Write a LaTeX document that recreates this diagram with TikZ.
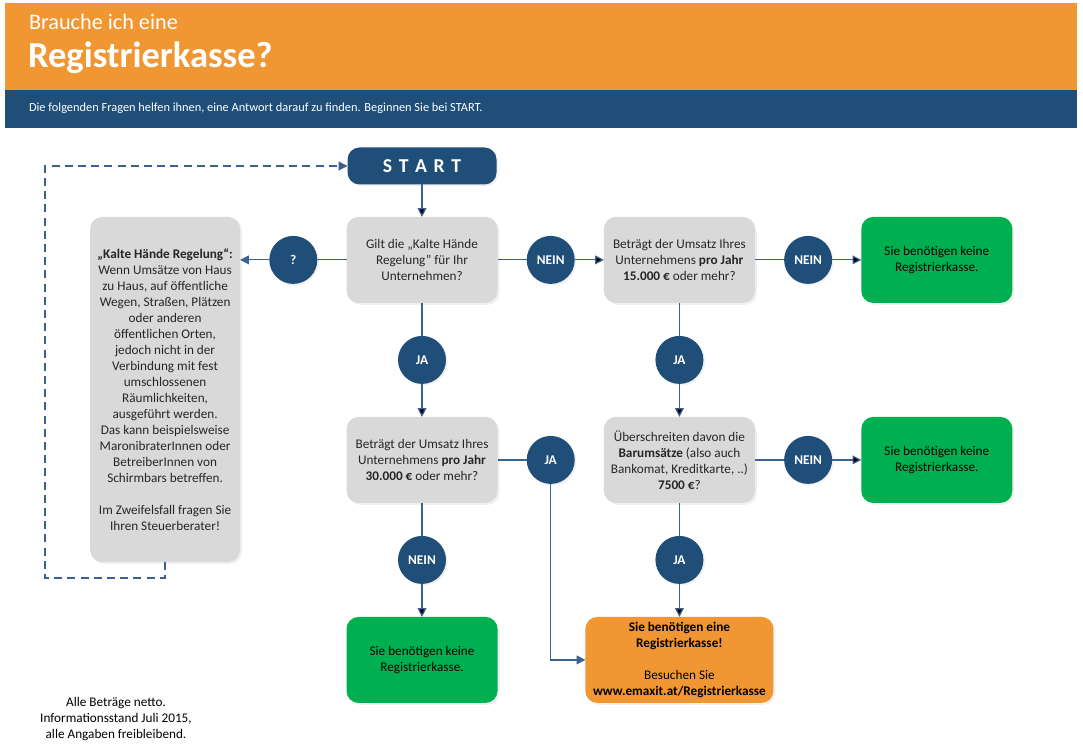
\documentclass[tikz,border=0pt]{standalone}
\usepackage{fontspec}
\setmainfont{Carlito}
\usepackage{xcolor}
\definecolor{KasseOrange}{HTML}{F09733}
\definecolor{KasseBlue}{HTML}{1F4E79}
\definecolor{KasseLine}{HTML}{3A6190}
\definecolor{KasseGray}{HTML}{D9D9D9}
\definecolor{KasseGreen}{HTML}{00B050}
\definecolor{KasseText}{HTML}{262626}
\usetikzlibrary{calc}
\usetikzlibrary{positioning}
\usetikzlibrary{shadows}
\usetikzlibrary{arrows.meta}

\begin{document}
\begin{tikzpicture}[x=0.25mm, y=-0.25mm,
    font=\fontsize{9.4}{11.4}\selectfont,
    node distance=8.25mm and 7.3mm,
    line width=0.3mm,
    outer sep=0pt,
    >={Triangle[length=2.2mm, width=2.2mm]},
    question/.style={shape=rectangle,
      rounded corners=3mm,
      fill=KasseGray,
      text=KasseText,
      align=center,
      outer sep=0pt,
      minimum width=37.75mm,
      minimum height=21.5mm,
      drop shadow={shadow xshift=0.5mm, shadow yshift=-0.5mm, opacity=0.12}},
    answer/.style={question, fill=KasseGreen, text=black},
    choice/.style={shape=circle,
      fill=KasseBlue,
      text=white,
      inner sep=0pt,
      outer sep=0pt,
      minimum size=12mm,
      font=\bfseries\fontsize{9.5}{11}\selectfont,
      drop shadow={shadow xshift=0.4mm, shadow yshift=-0.4mm, opacity=0.12}},
    link/.style={draw=KasseLine}]

    % header
    \fill[KasseOrange] (5,3) rectangle (1077,90);
    \fill[KasseBlue] (5,90) rectangle (1077,128);
    \node[name=kicker, anchor=base west, text=white, inner sep=0pt,
      font=\fontsize{15.8}{16}\selectfont] at (29,30) {Brauche ich eine};
    \node[name=title, anchor=base west, text=white, inner sep=0pt,
      font=\bfseries\fontsize{26}{26}\selectfont] at (28,68) {Registrierkasse?};
    \node[name=intro, anchor=base west, text=white, inner sep=0pt,
      font=\fontsize{8.8}{10}\selectfont] at (29,112)
      {Die folgenden Fragen helfen ihnen, eine Antwort darauf zu finden. Beginnen Sie bei START.};

    \node[name=start,
      shape=rectangle,
      rounded corners=3mm,
      fill=KasseBlue,
      text=white,
      minimum width=37.25mm,
      minimum height=9.25mm,
      font=\bfseries\fontsize{14}{14}\selectfont,
      drop shadow={shadow xshift=0.4mm, shadow yshift=-0.4mm, opacity=0.12}]
      at (422,166) {S\,\,T\,\,A\,\,R\,\,T};

    \node[name=cold, question, below=8.1mm of start]
      {Gilt die „Kalte Hände\\ Regelung” für Ihr\\ Unternehmen?};
    \node[name=neinA, choice, right=of cold] {NEIN};
    \node[name=turnover15, question, right=of neinA]
      {Beträgt der Umsatz Ihres\\ Unternehmens \textbf{pro Jahr}\\ \textbf{15.000 €} oder mehr?};
    \node[name=neinB, choice, right=of turnover15] {NEIN};
    \node[name=noneA, answer, right=of neinB]
      {Sie benötigen keine\\ Registrierkasse.};

    \node[name=unclear, choice, left=of cold] {?};
    \node[name=rule,
      question,
      anchor=north east,
      minimum width=37.5mm,
      minimum height=86.25mm]
      at ($(unclear.west |- cold.north) + (-7.3mm,0)$)
      {\textbf{„Kalte Hände Regelung“:}\\ Wenn Umsätze von Haus\\ zu Haus, auf öffentliche\\
       Wegen, Straßen, Plätzen\\ oder anderen\\ öffentlichen Orten,\\ jedoch nicht in der\\
       Verbindung mit fest\\ umschlossenen\\ Räumlichkeiten,\\ ausgeführt werden.\\
       Das kann beispielsweise\\ MaronibraterInnen oder\\ BetreiberInnen von\\
       Schirmbars betreffen.\\[11.4pt] Im Zweifelsfall fragen Sie\\ Ihren Steuerberater!};

    \node[name=jaA, choice, below=of cold] {JA};
    \node[name=turnover30, question, below=of jaA]
      {Beträgt der Umsatz Ihres\\ Unternehmens \textbf{pro Jahr}\\ \textbf{30.000 €} oder mehr?};
    \node[name=jaB, choice, right=of turnover30] {JA};
    \node[name=neinC, choice, below=of turnover30] {NEIN};
    \node[name=noneB, answer, below=of neinC]
      {Sie benötigen keine\\ Registrierkasse.};

    \node[name=jaC, choice, below=of turnover15] {JA};
    \node[name=cash, question, below=of jaC]
      {Überschreiten davon die\\ \textbf{Barumsätze} (also auch\\ Bankomat, Kreditkarte, ..)\\ \textbf{7500 €}?};
    \node[name=neinD, choice, right=of cash] {NEIN};
    \node[name=noneC, answer, right=of neinD]
      {Sie benötigen keine\\ Registrierkasse.};
    \node[name=jaD, choice, below=of cash] {JA};
    \node[name=needed, question, fill=KasseOrange, text=black,
      minimum width=47mm, below=of jaD]
      {\textbf{Sie benötigen eine}\\ \textbf{Registrierkasse!}\\[11.4pt] Besuchen Sie\\
       \textbf{www.emaxit.at/Registrierkasse}};

    \node[name=notes, align=center, text=black] at (116,719)
      {Alle Beträge netto.\\ Informationsstand Juli 2015,\\ alle Angaben freibleibend.};

    \coordinate (loop) at ($(rule.south west) + (-11.25mm,-4mm)$);

    \path[link] (start) edge[->] (cold);
    \path[link] (cold) edge (neinA);
    \path[link] (neinA) edge[->] (turnover15);
    \path[link] (turnover15) edge (neinB);
    \path[link] (neinB) edge[->] (noneA);
    \path[link] (cold) edge (unclear);
    \draw[link, ->] (unclear) -- (unclear -| rule.east);
    \path[link] (cold) edge (jaA);
    \path[link] (jaA) edge[->] (turnover30);
    \path[link] (turnover30) edge (jaB);
    \draw[link, ->] (jaB) |- (needed);
    \path[link] (turnover30) edge (neinC);
    \path[link] (neinC) edge[->] (noneB);
    \path[link] (turnover15) edge (jaC);
    \path[link] (jaC) edge[->] (cash);
    \path[link] (cash) edge (neinD);
    \path[link] (neinD) edge[->] (noneC);
    \path[link] (cash) edge (jaD);
    \path[link] (jaD) edge[->] (needed);
    \draw[link, dash pattern=on 2mm off 1.3mm, ->] (rule.south) |- (loop) |- (start);

    \path [use as bounding box] (0,0) rectangle (1083,750);
  \end{tikzpicture}
\end{document}
